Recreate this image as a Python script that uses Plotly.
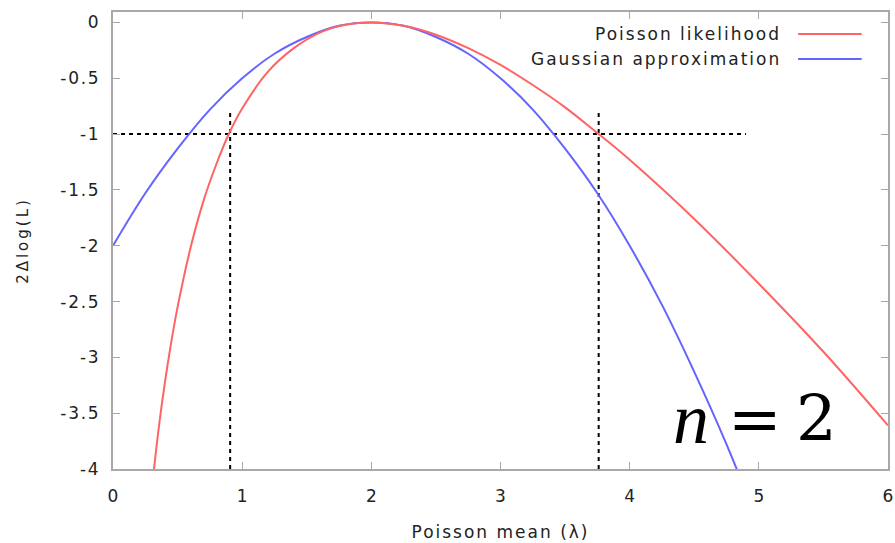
import plotly.graph_objects as go

# Poisson likelihood curve (n = 2)
poisson_lambda = [0.30, 0.35, 0.40, 0.45, 0.50, 0.60, 0.70, 0.80, 0.90, 1.00, 1.20, 1.40, 1.60, 1.80,
                  2.00, 2.25, 2.50, 2.75, 3.00, 3.25, 3.50, 3.75, 4.00, 4.50, 5.00, 5.50, 6.00]
poisson_vals = [-4.19, -3.67, -3.24, -2.87, -2.55, -2.02, -1.60, -1.27, -0.99, -0.77, -0.44, -0.23, -0.09, -0.02,
                0.00, -0.03, -0.11, -0.23, -0.38, -0.56, -0.76, -0.99, -1.23, -1.76, -2.34, -2.95, -3.61]

# Gaussian approximation curve
gauss_lambda = [0.00, 0.25, 0.50, 0.75, 1.00, 1.25, 1.50, 1.75, 2.00, 2.25, 2.50, 2.75,
                3.00, 3.25, 3.50, 3.75, 4.00, 4.25, 4.50, 4.75, 5.00]
gauss_vals = [-2.00, -1.53, -1.13, -0.78, -0.50, -0.28, -0.13, -0.03, 0.00, -0.03, -0.13, -0.28,
              -0.50, -0.78, -1.13, -1.53, -2.00, -2.53, -3.13, -3.78, -4.50]

# Dashed guide lines (1-sigma interval)
hline_x = [0.0, 4.9]
hline_y = [-1.0, -1.0]
ci_low_x = [0.907, 0.907]
ci_high_x = [3.76, 3.76]
vline_y = [-4.0, -0.8]

x_ticks = [0, 1, 2, 3, 4, 5, 6]
x_ticklabels = ["0", "1", "2", "3", "4", "5", "6"]
y_ticks = [0, -0.5, -1, -1.5, -2, -2.5, -3, -3.5, -4]
y_ticklabels = ["0", "-0.5", "-1", "-1.5", "-2", "-2.5", "-3", "-3.5", "-4"]

RED = "#ff6464"
BLUE = "#6464ff"
TXT = "#222222"
FONT = "DejaVu Sans"


def spaced(s, ls):
    return '<span style="letter-spacing:%spx">%s</span>' % (ls, s)


def thin(s):
    return "\u200a".join(list(s))


fig = go.Figure()
dash_style = dict(color="black", width=2, dash="4px,4px")
fig.add_trace(go.Scatter(x=hline_x, y=hline_y, mode="lines", line=dash_style, showlegend=False))
fig.add_trace(go.Scatter(x=ci_low_x, y=vline_y, mode="lines", line=dash_style, showlegend=False))
fig.add_trace(go.Scatter(x=ci_high_x, y=vline_y, mode="lines", line=dash_style, showlegend=False))
fig.add_trace(go.Scatter(x=gauss_lambda, y=gauss_vals, mode="lines",
                         line=dict(color=BLUE, width=2, shape="spline"), name="Gaussian approximation"))
fig.add_trace(go.Scatter(x=poisson_lambda, y=poisson_vals, mode="lines",
                         line=dict(color=RED, width=2, shape="spline"), name="Poisson likelihood"))

axis_common = dict(showline=True, linecolor="#a8a8a8", linewidth=2, mirror="allticks",
                   ticks="inside", ticklen=7, tickcolor="#a8a8a8", tickwidth=1,
                   showgrid=False, zeroline=False, automargin=False,
                   tickfont=dict(family=FONT, size=17, color=TXT))

fig.update_xaxes(range=[0, 6], tickvals=x_ticks, ticktext=x_ticklabels,
                 ticklabelstandoff=11,
                 title=dict(text=spaced("Poisson mean (λ)", 2), font=dict(family=FONT, size=17, color=TXT),
                            standoff=21),
                 **axis_common)
fig.update_yaxes(range=[-4, 0.094], tickvals=y_ticks, ticktext=[thin(t) for t in y_ticklabels],
                 ticklabelstandoff=9,
                 title=dict(text=spaced("2Δlog(L)", 3), font=dict(family=FONT, size=15, color=TXT),
                            standoff=28),
                 **axis_common)

# Legend drawn in gnuplot style (text right-aligned, sample line on the right)
legend_items = [("Poisson likelihood", RED, 0.952), ("Gaussian approximation", BLUE, 0.897)]
for label, color, yy in legend_items:
    fig.add_annotation(xref="paper", yref="paper", x=0.8645, y=yy, text=spaced(label, 2), showarrow=False,
                       xanchor="right", yanchor="middle",
                       font=dict(family=FONT, size=17, color=TXT))
    fig.add_shape(type="line", xref="paper", yref="paper", x0=0.884, x1=0.966, y0=yy, y1=yy,
                  line=dict(color=color, width=2))

# "n = 2" label
fig.add_annotation(xref="paper", yref="paper", x=0.746, y=0.109, text="<i>n</i>", showarrow=False,
                   xanchor="center", yanchor="middle",
                   font=dict(family="Liberation Serif", size=72, color="black"))
for txt, xx in [("=", 0.828), ("2", 0.908)]:
    fig.add_annotation(xref="paper", yref="paper", x=xx, y=0.109, text=txt, showarrow=False,
                       xanchor="center", yanchor="middle",
                       font=dict(family="DejaVu Serif", size=64, color="black"))

fig.update_layout(width=895, height=543, margin=dict(l=113, r=7, t=12, b=74),
                  plot_bgcolor="white", paper_bgcolor="white", showlegend=False)

fig.write_html("out.html", config={"displayModeBar": False},
               post_script="document.body.style.margin='0';document.body.style.overflow='hidden';")
